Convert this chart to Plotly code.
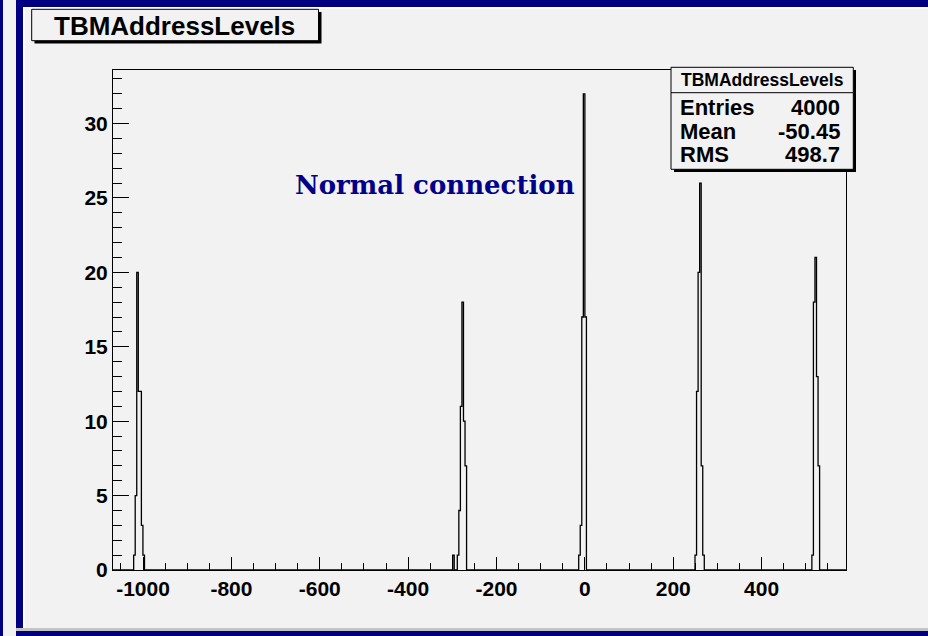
import plotly.graph_objects as go

# ---------------- data ----------------
BIN_WIDTH = 3.5
X_RANGE = [-1068, 591]
Y_RANGE = [0, 33.6]

x_tick_values = [-1000, -800, -600, -400, -200, 0, 200, 400]
x_tick_labels = ["-1000", "-800", "-600", "-400", "-200", "0", "200", "400"]

peak1_centers = [-1019.5, -1016, -1012.5, -1009, -1005.5, -1002, -998.5]
peak1_counts = [1, 5, 20, 12, 12, 3, 1]

peak2_centers = [-297.5, -294, -290.5, -287, -283.5, -280, -276.5, -273, -269.5]
peak2_counts = [1, 0, 0, 1, 4, 11, 18, 10, 7]

peak3_centers = [-12.25, -8.75, -5.25, -1.75, 1.75]
peak3_counts = [1, 3, 17, 32, 17]

peak4_centers = [251, 254.5, 258, 261.5, 265, 268.5]
peak4_counts = [1, 12, 20, 26, 7, 1]

peak5_centers = [515.5, 519, 522.5, 526, 529.5]
peak5_counts = [1, 18, 21, 13, 7]

stats_labels = ["Entries", "Mean", "RMS"]
stats_values = ["4000", "-50.45", "498.7"]
hist_name = "TBMAddressLevels"
note_text = "Normal connection"

# ---------------- build step path ----------------
xs = [X_RANGE[0]]
ys = [0]
for centers, counts in [(peak1_centers, peak1_counts), (peak2_centers, peak2_counts),
                        (peak3_centers, peak3_counts), (peak4_centers, peak4_counts),
                        (peak5_centers, peak5_counts)]:
    for c, n in zip(centers, counts):
        xs.append(c - BIN_WIDTH / 2)
        ys.append(n)
    xs.append(centers[-1] + BIN_WIDTH / 2)
    ys.append(0)
xs.append(X_RANGE[1])
ys.append(0)

fig = go.Figure()
fig.add_trace(go.Scatter(x=xs, y=ys, mode="lines", line=dict(color="black", width=1.3, shape="hv"),
                         hoverinfo="skip", showlegend=False))

# ---------------- layout helpers ----------------
L, R, T, B = 113, 846, 70, 570
PW, PH = R - L, B - T
def px(x):
    return (x - L) / PW
def py(y):
    return (B - y) / PH

BG = "#f2f2f2"
NAVY = "#000080"
shapes = []
def rect(x0, y0, x1, y1, fill, line=None, lw=0, layer="above"):
    shapes.append(dict(type="rect", xref="paper", yref="paper",
                       x0=px(x0), x1=px(x1), y0=py(y0), y1=py(y1),
                       fillcolor=fill, layer=layer,
                       line=dict(color=line if line else fill, width=lw)))

# window decorations
rect(0, 0, 3, 636, NAVY)
rect(16, 0, 23, 636, NAVY)
rect(16, 0, 928, 7, NAVY)
rect(16, 628, 928, 631, "#c4c4c4")
rect(16, 631, 928, 636, NAVY)
rect(23, 7, 25, 628, "#ffffff")
rect(23, 7, 928, 9, "#ffffff")

# title box with shadow
rect(34.5, 12, 321.5, 43.5, "black")
rect(31.7, 9.3, 318.5, 40.7, BG, line="black", lw=1)

# stats box with shadow
rect(674, 70, 856, 172, "black")
rect(671, 67.3, 853.3, 169.3, BG, line="black", lw=1)
shapes.append(dict(type="line", xref="paper", yref="paper", x0=px(671), x1=px(853.3),
                   y0=py(92.7), y1=py(92.7), line=dict(color="black", width=1), layer="above"))

annotations = []
def text(x, y, s, size, xanchor="center", family="Liberation Sans", color="black", weight="bold"):
    annotations.append(dict(x=px(x), y=py(y), xref="paper", yref="paper", text=s, showarrow=False,
                            xanchor=xanchor, yanchor="middle",
                            font=dict(family=family, size=size, color=color, weight=weight)))

text(174, 26, hist_name, 26)
text(762, 80, hist_name, 17.5)
for i, (lab, val) in enumerate(zip(stats_labels, stats_values)):
    yy = [107.7, 131.7, 154.3][i]
    text(678, yy, lab, 22, xanchor="left")
    text(842, yy, val, 22, xanchor="right")

text(293, 185, note_text, 26, xanchor="left", family="DejaVu Serif", color="#000088")

tickfont = dict(family="Liberation Sans", size=21, color="black", weight="bold")
fig.update_layout(
    width=928, height=636,
    margin=dict(l=L, r=928 - R, t=T, b=636 - B),
    paper_bgcolor=BG, plot_bgcolor=BG,
    shapes=shapes, annotations=annotations,
    xaxis=dict(range=X_RANGE, showgrid=False, zeroline=False, showline=True, mirror=True,
               linecolor="black", linewidth=1, ticks="inside", ticklen=13, tickcolor="black",
               tickwidth=1, tickmode="array", tickvals=x_tick_values, ticktext=x_tick_labels,
               tickfont=tickfont,
               minor=dict(tickmode="linear", dtick=50, tick0=0, ticklen=7, ticks="inside",
                          tickcolor="black", showgrid=False)),
    yaxis=dict(range=Y_RANGE, showgrid=False, zeroline=False, showline=True, mirror=True,
               linecolor="black", linewidth=1, ticks="inside", ticklen=16, tickcolor="black",
               tickwidth=1, dtick=5, tick0=0, tickfont=tickfont,
               minor=dict(dtick=1, ticklen=9, ticks="inside", tickcolor="black", showgrid=False)),
)

fig.write_html("out.html")
